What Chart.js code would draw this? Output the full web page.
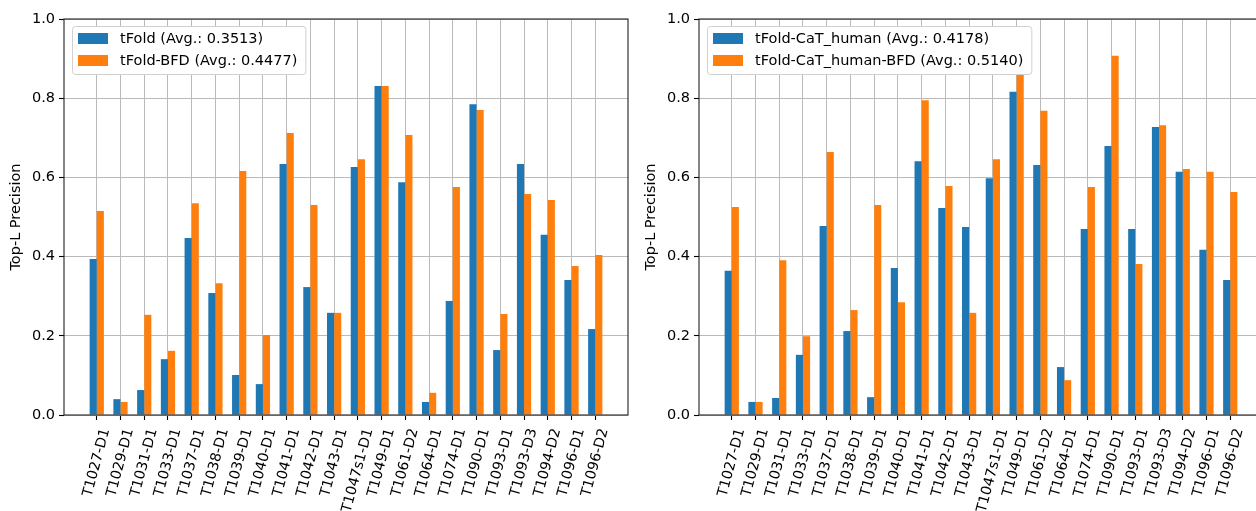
<!DOCTYPE html>
<html>
<head>
<meta charset="utf-8">
<script src="https://cdn.jsdelivr.net/npm/chart.js@4.4.1/dist/chart.umd.min.js"></script>
<style>
    html, body { margin: 0; padding: 0; background: #fff; overflow: hidden; }
    #wrap { position: relative; width: 1256px; height: 511px; overflow: hidden; }
    canvas { position: absolute; top: 0; }
    #left-chart { left: 0; }
    #right-chart { left: 635px; }
</style>
</head>
<body>
<div id="wrap">
    <canvas id="left-chart" width="640" height="511"></canvas>
    <canvas id="right-chart" width="640" height="511"></canvas>
</div>
<script>
const targets = [
    'T1027-D1', 'T1029-D1', 'T1031-D1', 'T1033-D1', 'T1037-D1', 'T1038-D1',
    'T1039-D1', 'T1040-D1', 'T1041-D1', 'T1042-D1', 'T1043-D1', 'T1047s1-D1',
    'T1049-D1', 'T1061-D2', 'T1064-D1', 'T1074-D1', 'T1090-D1', 'T1093-D1',
    'T1093-D3', 'T1094-D2', 'T1096-D1', 'T1096-D2',
];

const tfold = [
    0.394, 0.040, 0.063, 0.141, 0.447, 0.308, 0.101, 0.078, 0.634, 0.323, 0.258,
    0.626, 0.831, 0.588, 0.033, 0.288, 0.785, 0.164, 0.634, 0.455, 0.341, 0.217,
];
const tfoldBfd = [
    0.515, 0.033, 0.253, 0.162, 0.535, 0.333, 0.616, 0.202, 0.712, 0.530, 0.258,
    0.646, 0.831, 0.707, 0.056, 0.576, 0.770, 0.255, 0.558, 0.543, 0.376, 0.404,
];
const catHuman = [
    0.364, 0.033, 0.043, 0.152, 0.477, 0.212, 0.045, 0.371, 0.641, 0.523, 0.475,
    0.598, 0.816, 0.631, 0.121, 0.470, 0.679, 0.470, 0.727, 0.614, 0.417, 0.341,
];
const catHumanBfd = [
    0.525, 0.033, 0.391, 0.199, 0.664, 0.265, 0.530, 0.285, 0.795, 0.578, 0.258,
    0.646, 0.880, 0.768, 0.088, 0.576, 0.907, 0.381, 0.732, 0.621, 0.614, 0.563,
];

const yTicks = [0, 0.2, 0.4, 0.6, 0.8, 1.0];

const colors = { blue: '#1f77b4', orange: '#ff7f0e' };
const FS = 14.5;
const LABEL_FS = 14.2;
const FONT = "'DejaVu Sans', sans-serif";

Chart.defaults.font.family = FONT;
Chart.defaults.font.size = FS;
Chart.defaults.color = '#000';

function toPoints(values) {
    return values.map((v, i) => ({ x: i, y: v }));
}

// frame, rotated category labels and an in-axes legend, matplotlib style
const mplPlugin = {
    id: 'mpl',
    afterDraw(chart) {
        const { ctx, chartArea: a } = chart;
        const xs = chart.scales.x;
        ctx.save();

        ctx.strokeStyle = '#222';
        ctx.lineWidth = 1.1;
        ctx.strokeRect(a.left, a.top, a.right - a.left, a.bottom - a.top);

        ctx.font = `${LABEL_FS}px ${FONT}`;
        ctx.fillStyle = '#000';
        const th = 75 * Math.PI / 180;
        const h = LABEL_FS;
        targets.forEach((t, i) => {
            const px = xs.getPixelForValue(i);
            const w = ctx.measureText(t).width;
            const bh = w * Math.sin(th) + h * Math.cos(th);
            const cy = a.bottom + 12 + bh / 2;
            ctx.save();
            ctx.translate(px, cy);
            ctx.rotate(-th);
            ctx.textAlign = 'center';
            ctx.textBaseline = 'middle';
            ctx.fillText(t, 0, 0);
            ctx.restore();
        });

        ctx.font = `${FS}px ${FONT}`;
        const sets = chart.data.datasets;
        const bx = a.left + 8;
        const by = a.top + 7;
        const textW = Math.max(...sets.map((d) => ctx.measureText(d.label).width));
        const bw = 48 + textW + 8;
        const bhh = 48;
        ctx.beginPath();
        ctx.roundRect(bx + 0.5, by + 0.5, bw, bhh, 3);
        ctx.fillStyle = '#fff';
        ctx.fill();
        ctx.strokeStyle = '#d0d0d0';
        ctx.lineWidth = 1;
        ctx.stroke();
        sets.forEach((d, i) => {
            const cy = by + 12.5 + i * 22;
            ctx.fillStyle = d.backgroundColor;
            ctx.fillRect(bx + 6, cy - 5.5, 30, 11);
            ctx.fillStyle = '#000';
            ctx.textAlign = 'left';
            ctx.textBaseline = 'middle';
            ctx.fillText(d.label, bx + 48, cy + 1);
        });
        ctx.restore();
    },
};

const gridStyle = {
    color: '#bababa',
    lineWidth: 1,
    tickLength: 5,
    tickColor: '#000',
    tickWidth: 1.1,
};

function makeChart(id, labelA, dataA, labelB, dataB) {
    return new Chart(document.getElementById(id), {
        type: 'bar',
        data: {
            datasets: [
                { label: labelA, data: toPoints(dataA), backgroundColor: colors.blue },
                { label: labelB, data: toPoints(dataB), backgroundColor: colors.orange },
            ],
        },
        options: {
            responsive: false,
            animation: false,
            layout: { padding: { left: 0, top: 19, right: 12, bottom: 0 } },
            datasets: { bar: { categoryPercentage: 0.6, barPercentage: 1.0 } },
            plugins: { legend: { display: false }, tooltip: { enabled: false } },
            scales: {
                x: {
                    type: 'linear',
                    min: -1.38,
                    max: 22.38,
                    offset: false,
                    z: 1,
                    border: { display: false },
                    grid: { ...gridStyle, offset: false },
                    ticks: { display: false },
                    afterBuildTicks: (s) => { s.ticks = targets.map((_, i) => ({ value: i })); },
                    afterFit: (s) => { s.height = 96; },
                },
                y: {
                    min: 0,
                    max: 1,
                    z: 1,
                    border: { display: false },
                    grid: gridStyle,
                    ticks: { padding: 4, callback: (v) => v.toFixed(1) },
                    afterBuildTicks: (s) => { s.ticks = yTicks.map((v) => ({ value: v })); },
                    afterFit: (s) => { s.width = 64; },
                    title: { display: true, text: 'Top-L Precision', padding: { top: 8, bottom: 0 } },
                },
            },
        },
        plugins: [mplPlugin],
    });
}

makeChart('left-chart', 'tFold (Avg.: 0.3513)', tfold, 'tFold-BFD (Avg.: 0.4477)', tfoldBfd);
makeChart('right-chart', 'tFold-CaT_human (Avg.: 0.4178)', catHuman,
    'tFold-CaT_human-BFD (Avg.: 0.5140)', catHumanBfd);
</script>
</body>
</html>
